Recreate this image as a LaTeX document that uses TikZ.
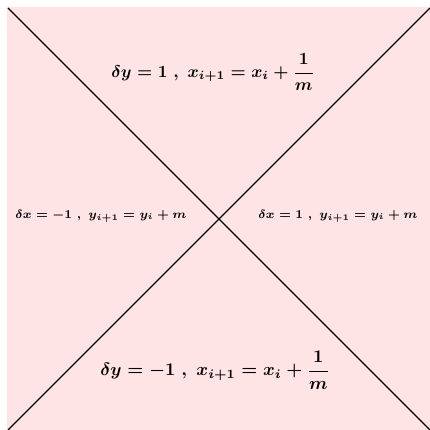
\documentclass[tikz,border=0pt]{standalone}
\usepackage{amsmath}
\definecolor{regionpink}{RGB}{255,228,230}
\begin{document}
\begin{tikzpicture}[
    x=0.0206cm, y=0.0206cm,
    region/.style={fill=regionpink, draw=none},
    diag/.style={black, line width=0.75pt},
    rule/.style={font=\boldmath, inner sep=0pt},
    siderule/.style={font=\boldmath\scriptsize, inner sep=0pt}
]
\useasboundingbox (0,0) rectangle (430,430);
% Background
\fill[region] (7,0) rectangle (430,423);

% Corners
\coordinate (tl) at (8,422);
\coordinate (br) at (430,0);
\coordinate (bl) at (8,0);
\coordinate (tr) at (430,422);

% Diagonals
\draw[diag] (tl) -- (br);
\draw[diag] (bl) -- (tr);

% Labels
\node[rule] (top) at (213,358) {$\delta y = 1\ ,\ x_{i+1} = x_i + \dfrac{1}{m}$};
\node[rule, scale=1.05] (bottom) at (215,60) {$\delta y = -1\ ,\ x_{i+1} = x_i + \dfrac{1}{m}$};
\node[siderule] (left) at (101,214) {$\delta x = -1\ ,\ y_{i+1} = y_i + m$};
\node[siderule] (right) at (338,214) {$\delta x = 1\ ,\ y_{i+1} = y_i + m$};

\end{tikzpicture}
\end{document}
